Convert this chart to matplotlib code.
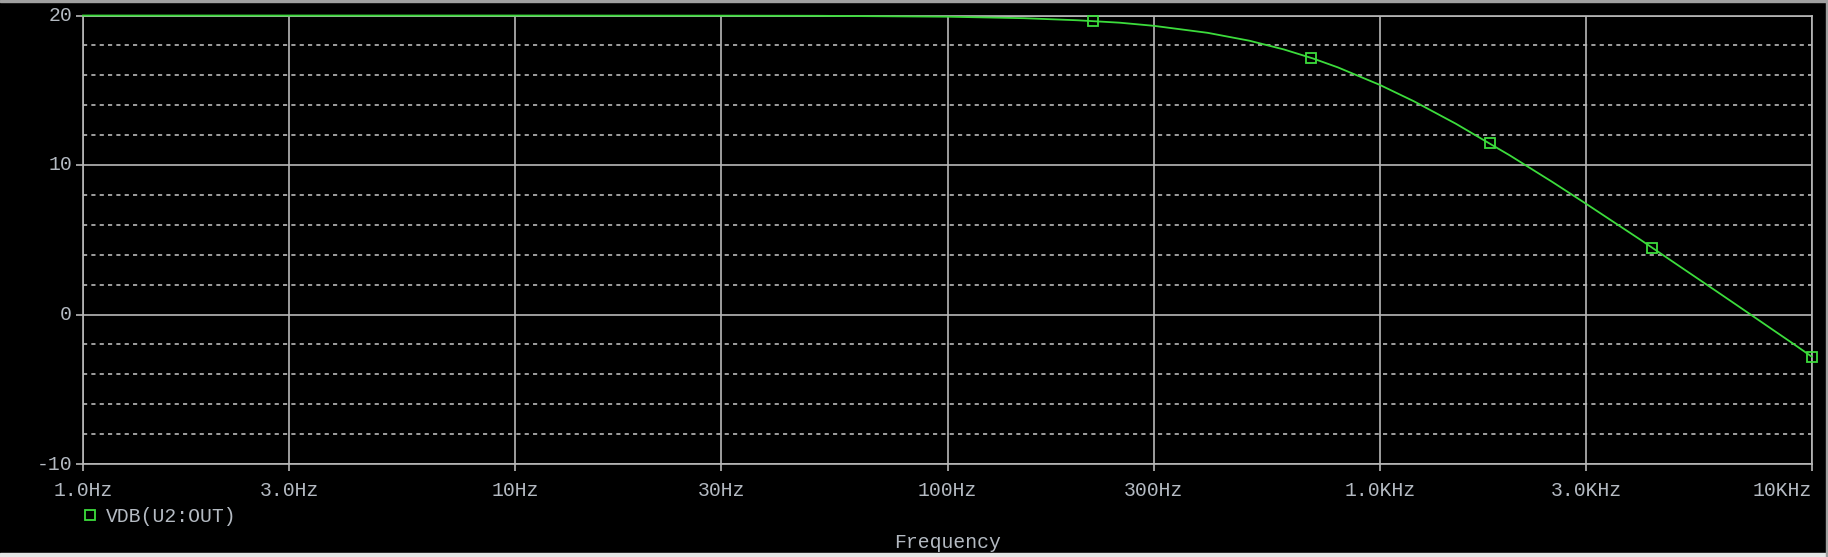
import matplotlib
matplotlib.use("Agg")
import matplotlib.pyplot as plt
from matplotlib.lines import Line2D
from matplotlib.patches import Rectangle
from matplotlib.ticker import FixedLocator, NullLocator

# ---- data ----
freq_hz = [1, 3, 10, 30, 50, 100, 150, 200, 250, 300, 400, 500, 600, 700, 800,
           1000, 1200, 1500, 2000, 2500, 3000, 4000, 5000, 6000, 7000, 8000, 9000, 10000]
vdb = [20.0, 20.0, 20.0, 19.99, 19.98, 19.92, 19.82, 19.68, 19.52, 19.31, 18.84, 18.31,
       17.73, 17.13, 16.53, 15.36, 14.26, 12.76, 10.64, 8.89, 7.41, 5.02, 3.12, 1.57,
       0.25, -0.9, -1.91, -2.83]
marker_freq = [217, 692, 1797, 4270, 10000]
marker_vdb = [19.66, 17.17, 11.47, 4.44, -2.82]

x_ticks = [1, 3, 10, 30, 100, 300, 1000, 3000, 10000]
x_tick_labels = ["1.0Hz", "3.0Hz", "10Hz", "30Hz", "100Hz", "300Hz", "1.0KHz", "3.0KHz", "10KHz"]
y_major = [-10, 0, 10, 20]
y_major_labels = ["-10", "0", "10", "20"]
y_minor = [-8, -6, -4, -2, 2, 4, 6, 8, 12, 14, 16, 18]
series_name = "VDB(U2:OUT)"
x_label = "Frequency"

# ---- style ----
W, H = 1828, 557
BG = "black"
GRID = "#b8b8b8"
TXT = "#b4bac2"
GREEN = "#3cdc3c"
FONT = "Liberation Mono"
FS = 14.2
PX = 72 / 100  # points per pixel

plt.rcParams["lines.scale_dashes"] = False
fig = plt.figure(figsize=(W / 100, H / 100), dpi=100, facecolor=BG)
ax = fig.add_axes([83 / W, 1 - 464 / H, (1812 - 83) / W, (464 - 15.5) / H], facecolor=BG)

ax.set_xscale("log")
ax.set_xlim(x_ticks[0], x_ticks[-1])
ax.set_ylim(y_major[0], y_major[-1])

ax.xaxis.set_major_locator(FixedLocator(x_ticks))
ax.xaxis.set_minor_locator(NullLocator())
ax.yaxis.set_major_locator(FixedLocator(y_major))
ax.yaxis.set_minor_locator(FixedLocator(y_minor))
ax.grid(True, which="major", axis="both", color=GRID, lw=1.2, ls="-")
ax.grid(True, which="minor", axis="y", color=GRID, lw=1.2, ls=(0, (3, 3)))
ax.set_axisbelow(True)

for s in ax.spines.values():
    s.set_color(GRID)
    s.set_linewidth(1.2)

ax.tick_params(axis="both", which="major", direction="out", length=5, width=1.2,
               color=GRID, labelbottom=False, labelleft=False)
ax.tick_params(axis="y", which="minor", length=0, labelleft=False)

# tick labels placed through the axes transforms
n = len(x_ticks)
for i, (xv, lab) in enumerate(zip(x_ticks, x_tick_labels)):
    ha = "right" if i == n - 1 else "center"
    ax.annotate(lab, xy=(xv, 0), xycoords=("data", "axes fraction"),
                xytext=(0, -27 * PX), textcoords="offset points",
                ha=ha, va="center", color=TXT, fontsize=FS, fontfamily=FONT,
                annotation_clip=False)
for yv, lab in zip(y_major, y_major_labels):
    ax.annotate(lab, xy=(0, yv), xycoords=("axes fraction", "data"),
                xytext=(-11 * PX, 0), textcoords="offset points",
                ha="right", va="center", color=TXT, fontsize=FS, fontfamily=FONT,
                annotation_clip=False)

ax.annotate(x_label, xy=(0.5, 0), xycoords="axes fraction",
            xytext=(0, -78 * PX), textcoords="offset points",
            ha="center", va="center", color=TXT, fontsize=FS, fontfamily=FONT,
            annotation_clip=False)

# series
ax.plot(freq_hz, vdb, color=GREEN, lw=1.3, zorder=3, clip_on=False)
ax.plot(marker_freq, marker_vdb, ls="none", marker="s", ms=7.5, mfc="none",
        mec=GREEN, mew=1.3, zorder=4, clip_on=False)

# legend
h = Line2D([], [], ls="none", marker="s", ms=7, mfc="none", mec=GREEN, mew=1.3)
leg = fig.legend([h], [series_name], loc="center left",
                 bbox_to_anchor=(80 / W, 1 - 516 / H), frameon=False,
                 handlelength=1.0, handletextpad=0.3, borderpad=0, borderaxespad=0,
                 prop={"family": FONT, "size": FS})
for t in leg.get_texts():
    t.set_color(TXT)

# window border decorations
fig.patches.append(Rectangle((0, 1 - 2 / H), 1, 2 / H, transform=fig.transFigure,
                             color="#a0a0a0", zorder=0))
fig.patches.append(Rectangle((0, 0), 1, 4 / H, transform=fig.transFigure,
                             color="#e6e6e6", zorder=0))
fig.patches.append(Rectangle((1 - 2 / W, 0), 2 / W, 1, transform=fig.transFigure,
                             color="#a0a0a0", zorder=0))

fig.savefig("out.png", dpi=100, facecolor=BG)
